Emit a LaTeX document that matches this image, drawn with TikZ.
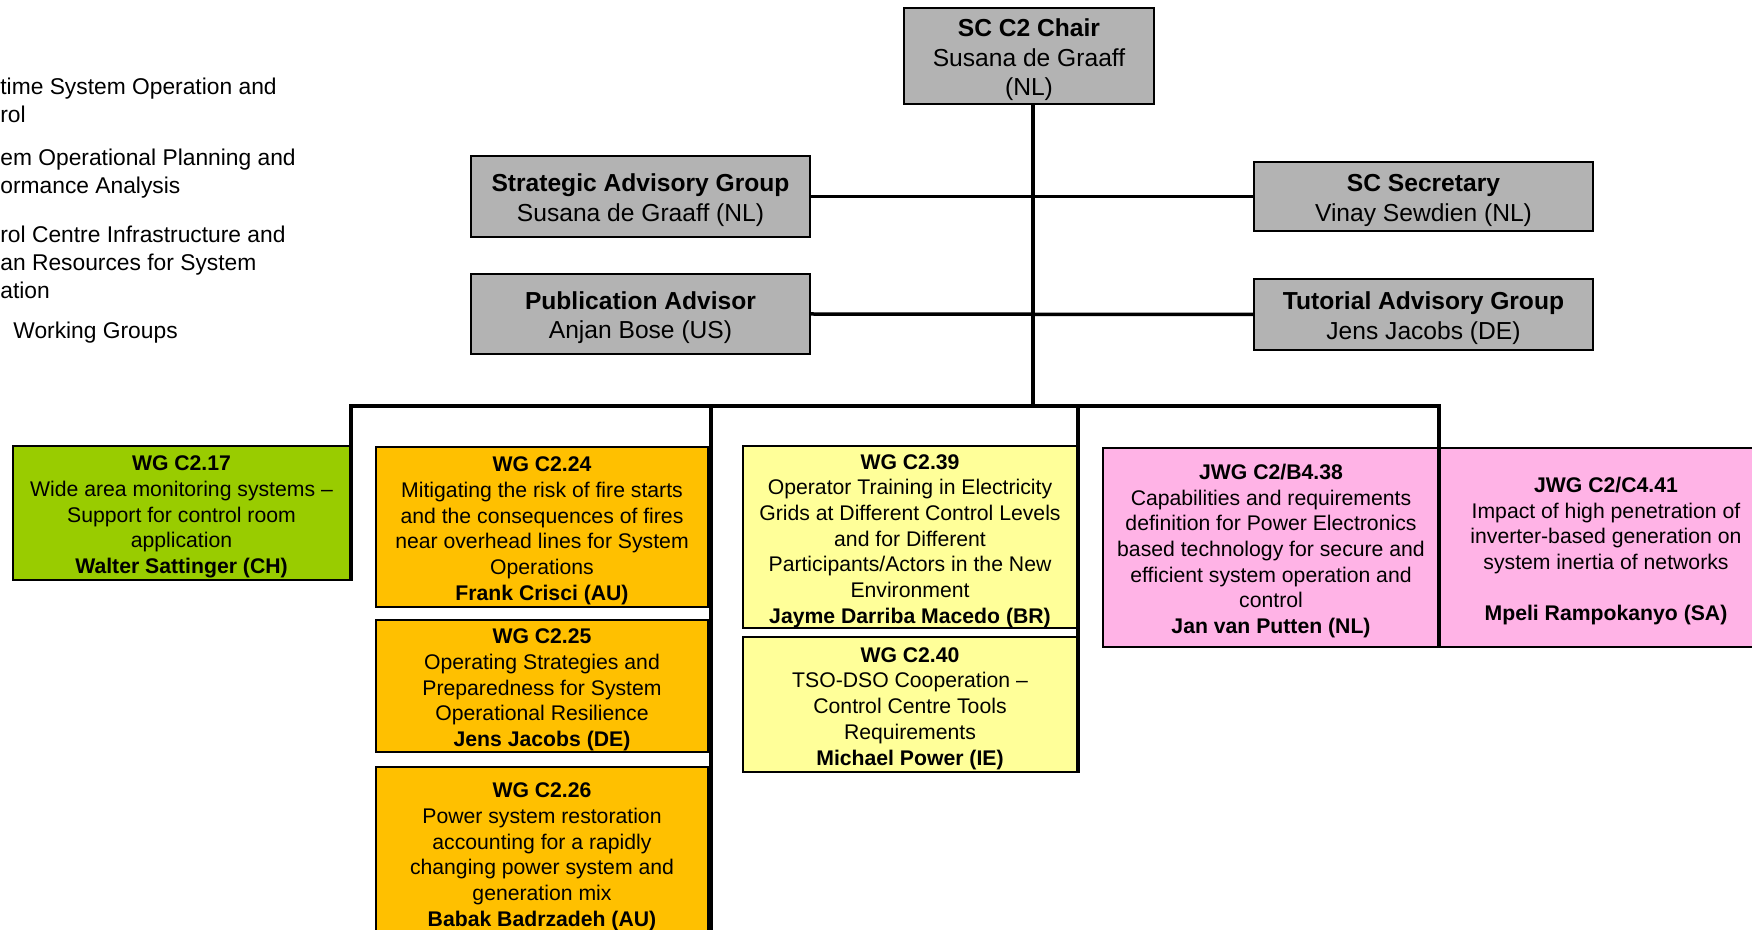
\documentclass[tikz,border=0pt]{standalone}
\usepackage{fontspec}
\setmainfont{Liberation Sans}
\usepackage{tikz}
\usetikzlibrary{calc}
\definecolor{boxgray}{HTML}{B3B3B3}
\definecolor{wggreen}{HTML}{99CC00}
\definecolor{wgorange}{HTML}{FFC000}
\definecolor{wgyellow}{HTML}{FFFF99}
\definecolor{jwgpink}{HTML}{FFB3E6}
\newcommand{\headline}[1]{\rule{0pt}{12.6pt}\textbf{#1}}
\newcommand{\wgline}[1]{\rule{0pt}{11.3pt}\textbf{#1}}

\begin{document}
\begin{tikzpicture}[
    x=0.5pt, y=-0.5pt,
    head/.style={rectangle, draw=black, fill=boxgray, line width=1pt, align=center, inner sep=0pt, minimum width=169.5pt, font=\fontsize{12.3}{14.8}\selectfont},
    wg/.style={rectangle, draw=black, line width=1pt, align=center, inner sep=0pt, font=\fontsize{10.6}{12.85}\selectfont},
    legend/.style={anchor=west, align=left, inner sep=0pt, font=\fontsize{11.4}{14}\selectfont},
    link/.style={line width=1.75pt},
    bus/.style={line width=2.4pt, line cap=rect}
  ]
    \useasboundingbox (0,0) rectangle (1752,930);
    \clip (0,0) rectangle (1752,930);

    \node[legend] (scope1) at (0,100) {time System Operation and\\rol};
    \node[legend] (scope2) at (0,174) {em Operational Planning and\\ormance Analysis};
    \node[legend] (scope3) at (0,262) {rol Centre Infrastructure and\\an Resources for System\\ation};
    \node[legend] (scope4) at (13,333) {Working Groups};

    \node[head, minimum width=125pt, minimum height=48pt] (chair) at (1029,56) {\headline{SC C2 Chair}\\Susana de Graaff\\(NL)};
    \node[head, minimum height=40.5pt] (sag) at (640.5,196.5) {\headline{Strategic Advisory Group}\\Susana de Graaff (NL)};
    \node[head, minimum height=34.5pt] (sec) at (1423.5,196.5) {\headline{SC Secretary}\\Vinay Sewdien (NL)};
    \node[head, minimum height=40pt] (pub) at (640.5,314) {\headline{Publication Advisor}\\Anjan Bose (US)};
    \node[head, minimum height=35.5pt] (tag) at (1423.5,314.5) {\headline{Tutorial Advisory Group}\\Jens Jacobs (DE)};

    \node[wg, fill=wggreen, minimum width=168.5pt, minimum height=67pt] (wg217) at (181.5,513) {\wgline{WG C2.17}\\Wide area monitoring systems –\\Support for control room\\application\\\textbf{Walter Sattinger (CH)}};
    \node[wg, fill=wgorange, minimum width=166pt, minimum height=80pt] (wg224) at (542,527) {\wgline{WG C2.24}\\Mitigating the risk of fire starts\\and the consequences of fires\\near overhead lines for System\\Operations\\\textbf{Frank Crisci (AU)}};
    \node[wg, fill=wgorange, minimum width=166pt, minimum height=66pt] (wg225) at (542,686) {\wgline{WG C2.25}\\Operating Strategies and\\Preparedness for System\\Operational Resilience\\\textbf{Jens Jacobs (DE)}};
    \node[wg, fill=wgorange, minimum width=166pt, minimum height=86pt] (wg226) at (542,853) {\wgline{WG C2.26}\\Power system restoration\\accounting for a rapidly\\changing power system and\\generation mix\\\textbf{Babak Badrzadeh (AU)}};
    \node[wg, fill=wgyellow, minimum width=167pt, minimum height=90pt] (wg239) at (910,537) {\wgline{WG C2.39}\\Operator Training in Electricity\\Grids at Different Control Levels\\and for Different\\Participants/Actors in the New\\Environment\\\textbf{Jayme Darriba Macedo (BR)}};
    \node[wg, fill=wgyellow, minimum width=167pt, minimum height=67.5pt] (wg240) at (910,704.5) {\wgline{WG C2.40}\\TSO-DSO Cooperation –\\Control Centre Tools\\Requirements\\\textbf{Michael Power (IE)}};
    \node[wg, fill=jwgpink, minimum width=168pt, minimum height=99.5pt] (jwg238) at (1271,547.5) {\wgline{JWG C2/B4.38}\\Capabilities and requirements\\definition for Power Electronics\\based technology for secure and\\efficient system operation and\\control\\\textbf{Jan van Putten (NL)}};
    \node[wg, fill=jwgpink, minimum width=167pt, minimum height=99.5pt] (jwg241) at (1606,547.5) {\wgline{JWG C2/C4.41}\\Impact of high penetration of\\inverter-based generation on\\system inertia of networks\\[12.85pt]\textbf{Mpeli Rampokanyo (SA)}};

    \coordinate (hub) at (1033,406);
    \coordinate (busL) at (351,406);
    \coordinate (drop2) at (711,406);
    \coordinate (drop3) at (1078,406);
    \coordinate (busR) at (1439,406);

    \draw[link] (chair.south -| hub) -- (hub);
    \draw[link] (sag.east) -- (sec.west);
    \draw[link] (pub.east) -- (tag.west);
    \draw[bus] (busL) -- (busR);
    \draw[link] (busL) -- (busL |- wg217.south);
    \draw[link] (drop2) -- (drop2 |- wg226.south);
    \draw[link] (drop3) -- (drop3 |- wg240.south);
    \draw[link] (busR) -- (busR |- jwg238.south);
\end{tikzpicture}
\end{document}
